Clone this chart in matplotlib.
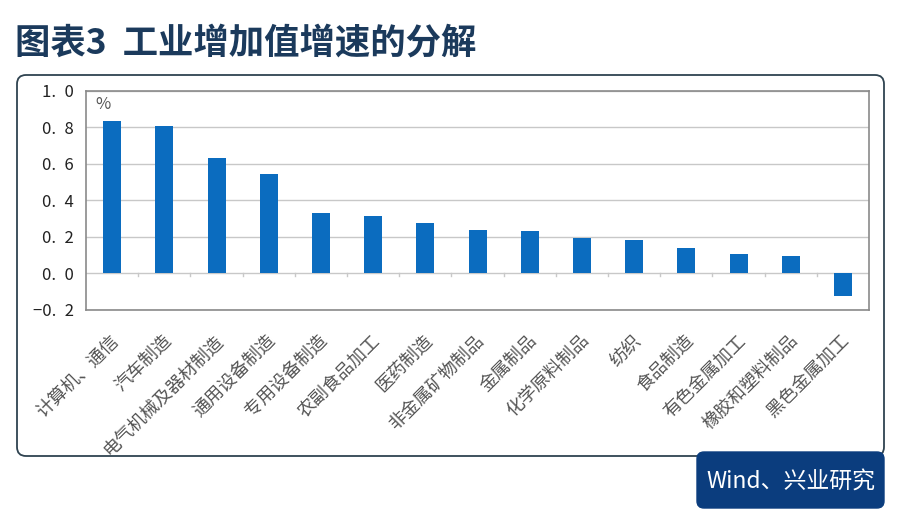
import matplotlib
matplotlib.use("Agg")
import matplotlib.pyplot as plt
from matplotlib.patches import FancyBboxPatch
from matplotlib.ticker import FuncFormatter, MultipleLocator
import numpy as np

plt.rcParams["font.family"] = ["Noto Sans CJK SC", "DejaVu Sans"]

categories = ["计算机、通信", "汽车制造", "电气机械及器材制造", "通用设备制造", "专用设备制造",
              "农副食品加工", "医药制造", "非金属矿物制品", "金属制品", "化学原料制品",
              "纺织", "食品制造", "有色金属加工", "橡胶和塑料制品", "黑色金属加工"]
values = [0.837, 0.81, 0.635, 0.544, 0.331, 0.315, 0.277, 0.24, 0.231, 0.196,
          0.185, 0.14, 0.105, 0.094, -0.123]

BAR = "#0b6cbf"
NAVY = "#0b3d7e"

fig = plt.figure(figsize=(9, 5.17), dpi=100)

# decoration layer in pixel units
bg = fig.add_axes([0, 0, 1, 1])
bg.set_xlim(0, 900)
bg.set_ylim(517, 0)
bg.set_axis_off()
bg.add_patch(FancyBboxPatch((17, 75), 867, 381, boxstyle="round,pad=0,rounding_size=9",
                            fc="white", ec="#2f4350", lw=1.3))
bg.add_patch(FancyBboxPatch((697, 452), 187, 56, boxstyle="round,pad=0,rounding_size=7",
                            fc=NAVY, ec=NAVY, lw=1))
bg.text(791, 482, "Wind、兴业研究", color="white", fontsize=16.5, ha="center", va="center")
bg.text(15, 43, "图表3  工业增加值增速的分解", color="#1b3a5c", fontsize=25.5,
        ha="left", va="center", fontweight="bold")

ax = fig.add_axes([0.0956, 0.4004, 0.87, 0.4236])
x = np.arange(len(categories))
ax.bar(x, values, width=0.345, color=BAR, zorder=3)
ax.set_xlim(-0.5, len(categories) - 0.5)
ax.set_ylim(-0.2, 1.0)
ax.yaxis.set_major_locator(MultipleLocator(0.2))
ax.yaxis.set_major_formatter(FuncFormatter(
    lambda v, p: f"{v:.1f}".replace(".", ".\u2002").replace("-", "−")))
ax.grid(axis="y", color="#c8c8c8", lw=1, zorder=0)
for s in ax.spines.values():
    s.set_color("#8a8a8a")
    s.set_linewidth(1.2)
ax.tick_params(axis="y", length=0, labelsize=12, colors="#222222", pad=9)
ax.set_xticks(x)
ax.set_xticklabels([])
ax.tick_params(axis="x", length=0)
# small boundary ticks on the zero line
for b in np.arange(0.5, len(categories) - 0.5):
    ax.plot([b, b], [0, -0.012], color="#c8c8c8", lw=1, zorder=2)
for i, c in enumerate(categories):
    ax.annotate(c, xy=(i, -0.2), xytext=(3, -20), textcoords="offset points",
                rotation=45, rotation_mode="anchor", ha="right", va="center",
                fontsize=13, color="#555555", annotation_clip=False)
ax.text(0.012, 0.975, "%", transform=ax.transAxes, ha="left", va="top",
        fontsize=12, color="#555555")

fig.savefig("out.png", dpi=100, facecolor="white")
